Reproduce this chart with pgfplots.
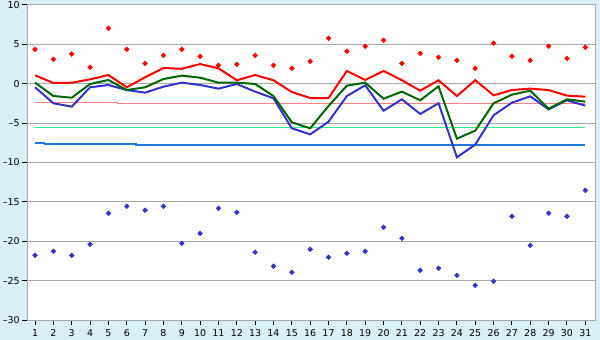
\documentclass[border=0pt]{standalone}
\usepackage{fontspec}
\setmainfont{DejaVu Sans}
\usepackage{pgfplots}
\pgfplotsset{compat=1.18}
\definecolor{bg}{HTML}{DAEFF6}
\definecolor{gridgray}{HTML}{A9A9A9}
\definecolor{redc}{HTML}{FF0000}
\definecolor{greenc}{HTML}{006600}
\definecolor{bluec}{HTML}{3333CC}
\definecolor{pinkc}{HTML}{FF8080}
\definecolor{lgreen}{HTML}{33EE88}
\definecolor{lblue}{HTML}{1E78E0}
\begin{document}
\fontsize{9.5}{11}\selectfont
\begin{tikzpicture}
\path[use as bounding box, fill=bg] (-27bp,-20bp) rectangle (573bp,320bp);
\begin{axis}[
  at={(0,0)}, anchor=south west,
  scale only axis, width=568bp, height=315bp,
  xmin=0.56, xmax=31.53, ymin=-30, ymax=10,
  axis background/.style={fill=white},
  xtick={1,...,31}, ytick={-30,-25,...,10},
  yticklabels={–30,–25,–20,–15,–10,–5,0,5,10},
  tick pos=left, tick align=outside,
  major tick length=5bp,
  ymajorgrids, grid style={draw=gridgray, line width=1bp},
  axis line style={draw=gridgray, line width=1bp},
  tick style={black, line width=1bp},
  /pgf/number format/assume math mode=true,
  tick label style={font=\fontsize{9.5}{11}\selectfont},
  xticklabel style={yshift=-1bp},
  yticklabel style={xshift=1bp},
]
% reference lines
\addplot[pinkc, line width=1bp] coordinates {(1,-2.36)(5.5,-2.36)(5.5,-2.49)(31,-2.49)};
\addplot[lgreen, line width=1.3bp] coordinates {(1,-5.54)(31,-5.54)};
\addplot[lblue, line width=1.3bp] coordinates {(1,-7.52)(1.5,-7.52)(1.5,-7.65)(6.5,-7.65)(6.5,-7.78)(31,-7.78)};
% blue line
\addplot[bluec, line width=2bp] coordinates {
(1,-0.45)(2,-2.48)(3,-2.91)(4,-0.45)(5,-0.16)(6,-0.8)(7,-1.13)(8,-0.37)(9,0.14)(10,-0.16)
(11,-0.62)(12,-0.03)(13,-1.0)(14,-1.85)(15,-5.66)(16,-6.43)(17,-4.82)(18,-1.56)(19,-0.2)(20,-3.42)
(21,-1.98)(22,-3.84)(23,-2.48)(24,-9.34)(25,-7.73)(26,-4.0)(27,-2.4)(28,-1.6)(29,-3.25)(30,-2.1)(31,-2.78)};
% green line
\addplot[greenc, line width=2bp] coordinates {
(1,0.14)(2,-1.56)(3,-1.77)(4,-0.03)(5,0.48)(6,-0.8)(7,-0.45)(8,0.6)(9,1.03)(10,0.77)
(11,0.14)(12,0.14)(13,-0.03)(14,-1.56)(15,-4.9)(16,-5.66)(17,-2.83)(18,-0.24)(19,0.14)(20,-1.9)
(21,-1.0)(22,-2.1)(23,-0.33)(24,-6.97)(25,-5.96)(26,-2.48)(27,-1.39)(28,-0.88)(29,-3.17)(30,-1.98)(31,-2.27)};
% red line
\addplot[redc, line width=2bp] coordinates {
(1,1.07)(2,0.10)(3,0.13)(4,0.56)(5,1.11)(6,-0.45)(7,0.82)(8,2.0)(9,1.9)(10,2.5)
(11,1.96)(12,0.44)(13,1.11)(14,0.44)(15,-1.05)(16,-1.81)(17,-1.81)(18,1.62)(19,0.48)(20,1.62)
(21,0.45)(22,-0.88)(23,0.44)(24,-1.56)(25,0.44)(26,-1.47)(27,-0.8)(28,-0.62)(29,-0.8)(30,-1.51)(31,-1.64)};
% red marks
\addplot[only marks, mark=square*, mark size=1.8bp, mark options={rotate=45, fill=redc, draw=redc, line width=0.2bp}] coordinates {
(1,4.37)(2,3.10)(3,3.78)(4,2.09)(5,7.04)(6,4.37)(7,2.59)(8,3.6)(9,4.37)(10,3.48)
(11,2.34)(12,2.47)(13,3.6)(14,2.34)(15,1.96)(16,2.85)(17,5.77)(18,4.12)(19,4.76)(20,5.52)
(21,2.59)(22,3.86)(23,3.35)(24,2.97)(25,1.96)(26,5.14)(27,3.48)(28,2.97)(29,4.76)(30,3.22)(31,4.63)};
% blue marks
\addplot[only marks, mark=square*, mark size=1.8bp, mark options={rotate=45, fill=bluec, draw=bluec, line width=0.2bp}] coordinates {
(1,-21.79)(2,-21.28)(3,-21.79)(4,-20.39)(5,-16.45)(6,-15.56)(7,-16.07)(8,-15.56)(9,-20.26)(10,-19.0)
(11,-15.82)(12,-16.33)(13,-21.4)(14,-23.18)(15,-23.94)(16,-21.02)(17,-22.04)(18,-21.53)(19,-21.28)(20,-18.23)
(21,-19.63)(22,-23.69)(23,-23.43)(24,-24.33)(25,-25.6)(26,-25.09)(27,-16.83)(28,-20.52)(29,-16.45)(30,-16.83)(31,-13.53)};
\end{axis}
\end{tikzpicture}
\end{document}
